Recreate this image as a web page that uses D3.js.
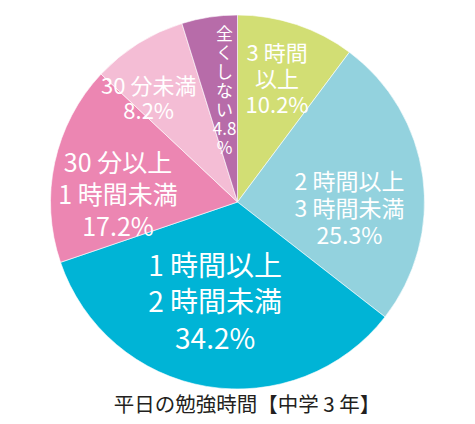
<!DOCTYPE html>
<html>
<head>
<meta charset="utf-8">
<script src="https://cdn.jsdelivr.net/npm/d3@7"></script>
<style>
  body { margin: 0; background: #fff; }
  svg text { font-family: "Noto Sans CJK JP", "Noto Sans", sans-serif; }
</style>
</head>
<body>
<div id="chart"></div>
<script>
// データ
const categories = ["3時間以上", "2時間以上3時間未満", "1時間以上2時間未満", "30分以上1時間未満", "30分未満", "全くしない"];
const values = [10.2, 25.3, 34.2, 17.2, 8.2, 4.8];
const labelLines = [
  ["3 時間", "以上", "10.2%"],
  ["2 時間以上", "3 時間未満", "25.3%"],
  ["1 時間以上", "2 時間未満", "34.2%"],
  ["30 分以上", "1 時間未満", "17.2%"],
  ["30 分未満", "8.2%"],
  ["全", "く", "し", "な", "い", "4.8", "%"]
];
const title = "平日の勉強時間【中学 3 年】";

const colors = ["#d2de74", "#93d2de", "#00b4d6", "#ec86b2", "#f4bdd5", "#b76ca9"];

// ラベル配置 (半径の比率, 角度のずれ[度], 文字サイズ, 行間)
const labelLayout = [
  { k: 0.69, dA: -0.5, size: 22, lh: 26 },
  { k: 0.60, dA: 11, size: 23, lh: 27 },
  { k: 0.55, dA: 3, size: 28, lh: 36.5 },
  { k: 0.64, dA: -9, size: 25, lh: 32 },
  { k: 0.73, dA: -8.5, size: 22, lh: 25 },
  { k: 0.60, dA: 2, size: 17, lh: 19 }
];

const W = 475, H = 424;
const cx = 237.5, cy = 202, R = 187;

const svg = d3.select("#chart")
  .append("svg")
  .attr("width", W)
  .attr("height", H);

const g = svg.append("g")
  .attr("transform", "translate(" + cx + "," + cy + ")");

const pie = d3.pie().sort(null).value(d => d)(values);
const arc = d3.arc().innerRadius(0).outerRadius(R);

// 扇形
g.selectAll("path")
  .data(pie)
  .join("path")
  .attr("d", arc)
  .attr("fill", (d, i) => colors[i])
  .attr("stroke", "#fff")
  .attr("stroke-width", 0.6);

// ラベル
pie.forEach((d, i) => {
  const L = labelLayout[i];
  const a = (d.startAngle + d.endAngle) / 2 + L.dA * Math.PI / 180;
  const r = R * L.k;
  const x = Math.sin(a) * r;
  const y = -Math.cos(a) * r;
  const lines = labelLines[i];
  const y0 = y - (lines.length - 1) * L.lh / 2 + L.size * 0.36;
  const t = g.append("text")
    .attr("text-anchor", "middle")
    .attr("fill", "#fff")
    .attr("font-size", L.size);
  lines.forEach((s, j) => {
    t.append("tspan")
      .attr("x", x)
      .attr("y", y0 + j * L.lh)
      .text(s);
  });
});

// タイトル
svg.append("text")
  .attr("x", 247)
  .attr("y", 412)
  .attr("text-anchor", "middle")
  .attr("font-size", 20.5)
  .attr("fill", "#231f20")
  .text(title);
</script>
</body>
</html>
